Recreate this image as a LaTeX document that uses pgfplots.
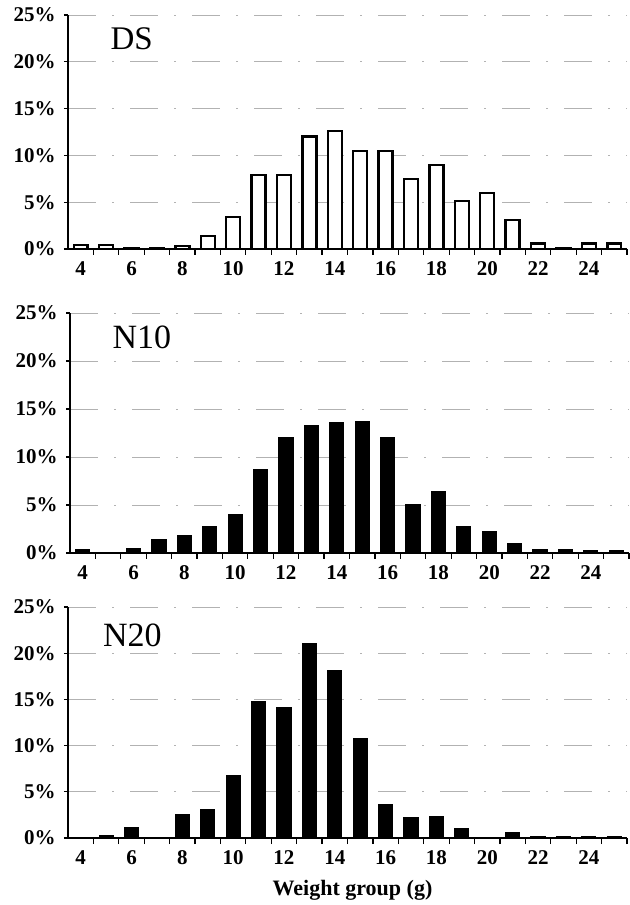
\documentclass[border=0pt]{standalone}
\usepackage{fontspec}
\setmainfont{Liberation Serif}
\usepackage{pgfplots}
\pgfplotsset{compat=1.18}

% share of fish per weight group (%)
\pgfplotstableread{
w   ds    nten  ntwenty
4   0.4   0.35  0.0
5   0.4   0.0   0.3
6   0.1   0.5   1.1
7   0.1   1.4   0.0
8   0.3   1.8   2.5
9   1.4   2.8   3.1
10  3.4   4.0   6.8
11  7.9   8.7   14.8
12  7.9   12.0  14.1
13  12.0  13.3  21.0
14  12.6  13.6  18.1
15  10.5  13.7  10.8
16  10.5  12.0  3.6
17  7.5   5.0   2.2
18  9.0   6.4   2.3
19  5.1   2.7   1.0
20  6.0   2.2   0.0
21  3.1   1.0   0.6
22  0.6   0.4   0.1
23  0.1   0.35  0.1
24  0.6   0.2   0.1
25  0.6   0.2   0.1
}\weights

\pgfplotsset{
  panel/.style={
    scale only axis,
    width=279.5pt,
    anchor=south west,
    xmin=3.5, xmax=25.5,
    ymin=0, ymax=25,
    axis x line*=bottom,
    axis y line*=left,
    x axis line style={line width=1.3pt, -},
    y axis line style={line width=0.6pt, -},
    xtick={4,6,...,24},
    xticklabels={4,6,8,10,12,14,16,18,20,22,24},
    minor xtick={4.5,5.5,...,25.5},
    major x tick style={draw=none},
    minor tick length=3pt,
    major tick length=2pt,
    tick align=outside,
    tick style={black, line width=0.6pt},
    ytick={0,5,...,25},
    yticklabels={0\%,5\%,10\%,15\%,20\%,25\%},
    ticklabel style={font=\fontsize{10.5}{10.5}\selectfont\bfseries},
    yticklabel style={inner sep=0pt, xshift=-4pt},
    xticklabel style={inner sep=0pt, yshift=-4pt},
    ymajorgrids,
    major grid style={black!30, line width=0.4pt, dash pattern=on 14pt off 8pt on 1pt off 8pt},
    ybar, bar width=0.55,
    clip=false,
  },
}

\begin{document}
\begin{tikzpicture}
\path[use as bounding box] (0,0) rectangle (315pt,452.5pt);

\begin{axis}[panel, at={(34pt,328pt)}, height=117pt]
  \addplot[fill=white, draw=black, line width=1.2pt] table[x=w, y=ds] {\weights};
  \node[anchor=base west, font=\fontsize{16.5}{16.5}\selectfont] at (axis cs:4.9,21.3) {DS};
\end{axis}

\begin{axis}[panel, at={(35pt,176pt)}, height=120pt]
  \addplot[fill=black, draw=black, line width=0.6pt] table[x=w, y=nten] {\weights};
  \node[anchor=base west, font=\fontsize{17}{17}\selectfont] at (axis cs:4.9,21.35) {N10};
\end{axis}

\begin{axis}[panel, at={(34pt,33.5pt)}, height=115.5pt,
    xlabel={Weight group (g)},
    xlabel style={at={(axis description cs:0.5,0)}, anchor=center,
      xshift=2.5pt, yshift=-26pt, font=\fontsize{11}{11}\selectfont\bfseries}]
  \addplot[fill=black, draw=black, line width=0.6pt] table[x=w, y=ntwenty] {\weights};
  \node[anchor=base west, font=\fontsize{17}{17}\selectfont] at (axis cs:4.6,20.7) {N20};
\end{axis}
\end{tikzpicture}
\end{document}
